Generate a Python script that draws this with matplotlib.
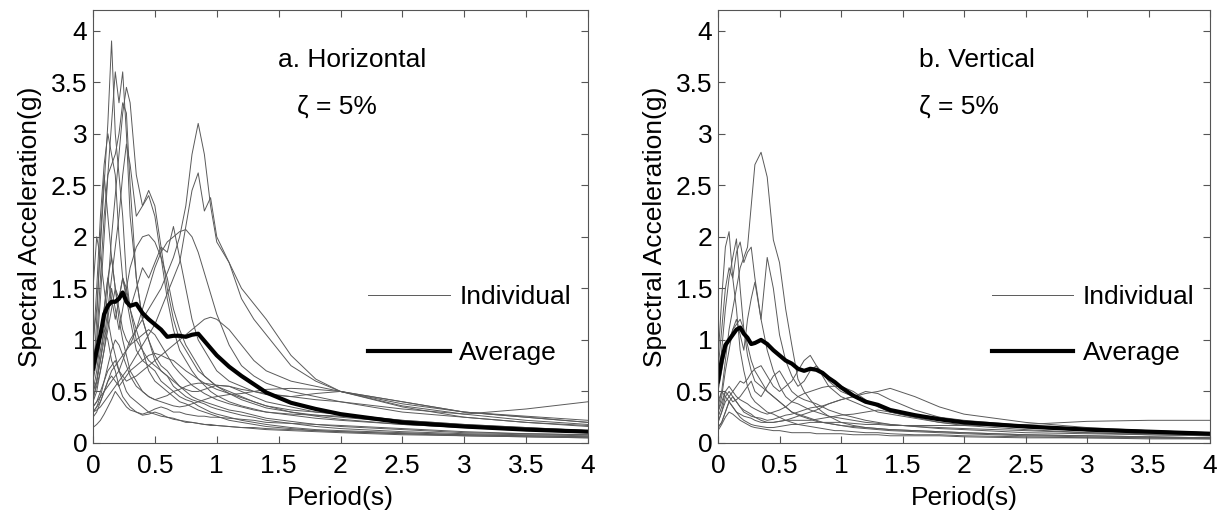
import matplotlib
matplotlib.use('Agg')
import matplotlib.pyplot as plt
from matplotlib.lines import Line2D
from matplotlib.ticker import FuncFormatter, MultipleLocator

plt.rcParams['font.family'] = ['Liberation Sans', 'DejaVu Sans']

period = [0, 0.03, 0.06, 0.09, 0.12, 0.15, 0.18, 0.21, 0.24, 0.27, 0.3, 0.35, 0.4, 0.45,
          0.5, 0.55, 0.6, 0.65, 0.7, 0.75, 0.8, 0.85, 0.9, 0.95, 1.0, 1.1, 1.2, 1.3, 1.4,
          1.6, 1.8, 2.0, 2.5, 3.0, 3.5, 4.0]

# horizontal records, spectral acceleration (g)
h01 = [1.0, 1.3, 1.9, 2.5, 3.1, 3.9, 3.0, 2.6, 2.2, 1.6, 1.3, 1.0, 0.9, 0.7, 0.6, 0.55, 0.5, 0.45, 0.4, 0.38, 0.35, 0.32, 0.3, 0.28, 0.26, 0.22, 0.2, 0.18, 0.16, 0.14, 0.12, 0.11, 0.09, 0.08, 0.07, 0.06]
h02 = [0.7, 0.9, 1.4, 2.0, 2.6, 3.1, 3.6, 3.3, 3.6, 3.0, 2.2, 1.6, 1.2, 1.0, 0.8, 0.7, 0.65, 0.55, 0.5, 0.45, 0.42, 0.4, 0.38, 0.35, 0.33, 0.3, 0.27, 0.25, 0.22, 0.19, 0.16, 0.14, 0.11, 0.09, 0.08, 0.07]
h03 = [0.5, 0.6, 0.8, 1.1, 1.5, 2.0, 2.4, 2.8, 3.2, 3.45, 3.3, 2.6, 2.3, 2.45, 2.3, 1.9, 1.5, 1.2, 1.0, 0.9, 0.8, 0.7, 0.65, 0.6, 0.55, 0.5, 0.45, 0.4, 0.36, 0.3, 0.26, 0.23, 0.18, 0.15, 0.13, 0.11]
h04 = [0.35, 0.4, 0.45, 0.5, 0.55, 0.6, 0.65, 0.7, 0.8, 0.9, 1.0, 1.1, 1.2, 1.3, 1.4, 1.5, 1.65, 1.8, 2.0, 2.3, 2.8, 3.1, 2.8, 2.3, 1.95, 1.75, 1.5, 1.35, 1.2, 0.85, 0.62, 0.5, 0.38, 0.3, 0.26, 0.22]
h05 = [0.3, 0.32, 0.35, 0.4, 0.45, 0.5, 0.55, 0.6, 0.65, 0.7, 0.75, 0.85, 0.95, 1.05, 1.15, 1.3, 1.45, 1.6, 1.75, 2.1, 2.45, 2.62, 2.25, 2.38, 2.0, 1.75, 1.4, 1.2, 1.05, 0.75, 0.6, 0.5, 0.36, 0.28, 0.22, 0.18]
h06 = [0.4, 0.5, 0.7, 0.9, 1.2, 1.5, 1.3, 1.1, 1.3, 1.5, 1.7, 1.9, 2.0, 2.02, 1.95, 1.8, 1.6, 1.3, 1.1, 0.95, 0.85, 0.75, 0.65, 0.6, 0.55, 0.48, 0.42, 0.38, 0.34, 0.3, 0.27, 0.25, 0.2, 0.16, 0.13, 0.11]
h07 = [0.3, 0.35, 0.4, 0.5, 0.6, 0.7, 0.75, 0.8, 0.85, 0.9, 0.95, 1.1, 1.3, 1.5, 1.7, 1.85, 1.95, 2.0, 2.05, 2.07, 2.0, 1.85, 1.65, 1.45, 1.25, 0.95, 0.75, 0.65, 0.58, 0.5, 0.45, 0.4, 0.3, 0.25, 0.2, 0.17]
h08 = [0.6, 0.8, 1.0, 1.3, 1.6, 1.4, 1.2, 1.4, 1.6, 1.5, 1.3, 1.5, 1.7, 1.6, 1.75, 1.9, 1.85, 2.1, 1.8, 1.5, 1.2, 1.0, 0.9, 0.8, 0.7, 0.6, 0.55, 0.5, 0.47, 0.45, 0.48, 0.5, 0.35, 0.25, 0.2, 0.16]
h09 = [0.9, 1.5, 2.2, 2.7, 3.0, 2.8, 2.6, 2.0, 1.6, 1.4, 1.2, 0.9, 0.8, 0.75, 0.7, 0.6, 0.55, 0.5, 0.45, 0.42, 0.4, 0.36, 0.33, 0.3, 0.28, 0.25, 0.22, 0.2, 0.18, 0.15, 0.13, 0.12, 0.1, 0.08, 0.07, 0.06]
h10 = [0.8, 1.0, 1.6, 2.2, 2.6, 2.7, 2.8, 3.0, 3.3, 3.2, 2.5, 1.6, 1.2, 1.0, 0.85, 0.75, 0.7, 0.62, 0.55, 0.5, 0.45, 0.42, 0.4, 0.38, 0.36, 0.32, 0.3, 0.27, 0.24, 0.21, 0.18, 0.16, 0.13, 0.1, 0.09, 0.08]
h11 = [0.5, 0.6, 0.8, 1.0, 1.3, 1.6, 1.9, 2.2, 2.6, 2.9, 2.7, 2.2, 2.3, 2.4, 2.2, 1.8, 1.4, 1.1, 0.9, 0.8, 0.7, 0.62, 0.56, 0.5, 0.46, 0.4, 0.36, 0.33, 0.3, 0.27, 0.24, 0.22, 0.18, 0.15, 0.12, 0.1]
h12 = [0.35, 0.4, 0.5, 0.6, 0.7, 0.75, 0.8, 0.7, 0.65, 0.6, 0.62, 0.65, 0.7, 0.75, 0.8, 0.85, 0.9, 0.95, 1.0, 1.05, 1.1, 1.15, 1.2, 1.22, 1.2, 1.1, 0.95, 0.8, 0.7, 0.6, 0.55, 0.5, 0.4, 0.3, 0.25, 0.2]
h13 = [0.25, 0.3, 0.4, 0.5, 0.6, 0.65, 0.6, 0.55, 0.6, 0.65, 0.7, 0.75, 0.8, 0.85, 0.87, 0.85, 0.82, 0.8, 0.75, 0.7, 0.66, 0.62, 0.58, 0.55, 0.52, 0.48, 0.44, 0.4, 0.36, 0.32, 0.3, 0.28, 0.22, 0.18, 0.15, 0.12]
h14 = [0.15, 0.18, 0.22, 0.28, 0.35, 0.42, 0.5, 0.45, 0.4, 0.35, 0.32, 0.3, 0.28, 0.3, 0.33, 0.35, 0.33, 0.3, 0.3, 0.28, 0.27, 0.26, 0.26, 0.25, 0.25, 0.24, 0.23, 0.22, 0.2, 0.19, 0.18, 0.17, 0.14, 0.11, 0.09, 0.08]
h15 = [0.3, 0.35, 0.45, 0.6, 0.75, 0.9, 1.0, 0.95, 0.85, 0.75, 0.65, 0.55, 0.5, 0.45, 0.42, 0.44, 0.46, 0.5, 0.52, 0.55, 0.57, 0.58, 0.58, 0.57, 0.56, 0.55, 0.52, 0.5, 0.48, 0.45, 0.42, 0.4, 0.33, 0.28, 0.33, 0.4]
h16 = [0.4, 0.6, 0.9, 1.1, 1.0, 0.8, 0.7, 0.55, 0.45, 0.4, 0.35, 0.3, 0.27, 0.28, 0.3, 0.28, 0.25, 0.24, 0.22, 0.2, 0.2, 0.19, 0.18, 0.18, 0.17, 0.16, 0.15, 0.15, 0.14, 0.13, 0.12, 0.11, 0.09, 0.07, 0.06, 0.05]
h17 = [0.5, 0.7, 1.0, 1.3, 1.6, 1.8, 1.5, 1.3, 1.1, 1.0, 0.95, 1.0, 1.05, 1.1, 1.05, 0.95, 0.85, 0.75, 0.68, 0.62, 0.56, 0.52, 0.48, 0.45, 0.42, 0.38, 0.35, 0.32, 0.3, 0.28, 0.27, 0.26, 0.2, 0.16, 0.13, 0.11]
h18 = [0.6, 1.2, 2.0, 2.6, 2.2, 1.8, 1.5, 1.2, 1.0, 0.85, 0.7, 0.6, 0.5, 0.45, 0.42, 0.4, 0.38, 0.36, 0.35, 0.36, 0.38, 0.4, 0.42, 0.44, 0.45, 0.47, 0.48, 0.5, 0.52, 0.53, 0.52, 0.5, 0.4, 0.3, 0.25, 0.2]
h19 = [1.5, 2.0, 1.8, 1.5, 1.2, 1.0, 0.85, 0.7, 0.6, 0.5, 0.45, 0.4, 0.35, 0.3, 0.28, 0.26, 0.25, 0.23, 0.22, 0.21, 0.2, 0.19, 0.18, 0.17, 0.17, 0.16, 0.15, 0.14, 0.13, 0.12, 0.11, 0.1, 0.08, 0.07, 0.06, 0.05]
h20 = [0.45, 0.55, 0.7, 0.9, 1.1, 1.3, 1.5, 1.4, 1.6, 1.45, 1.3, 1.1, 0.9, 0.8, 0.75, 0.7, 0.65, 0.6, 0.55, 0.52, 0.5, 0.5, 0.52, 0.54, 0.56, 0.55, 0.5, 0.45, 0.4, 0.35, 0.3, 0.28, 0.22, 0.18, 0.15, 0.12]
h_avg = [0.72, 0.9, 1.05, 1.25, 1.33, 1.37, 1.37, 1.4, 1.46, 1.37, 1.33, 1.35, 1.26, 1.2, 1.15, 1.1, 1.03, 1.04, 1.04, 1.03, 1.05, 1.06, 0.99, 0.92, 0.85, 0.74, 0.65, 0.57, 0.49, 0.39, 0.33, 0.28, 0.2, 0.16, 0.13, 0.11]

# vertical records
v01 = [0.35, 0.5, 0.8, 1.1, 1.3, 1.5, 1.7, 1.8, 1.9, 2.3, 2.7, 2.82, 2.58, 1.97, 1.75, 1.3, 0.95, 0.62, 0.5, 0.42, 0.35, 0.3, 0.26, 0.23, 0.2, 0.17, 0.15, 0.14, 0.13, 0.12, 0.11, 0.1, 0.08, 0.07, 0.06, 0.05]
v02 = [0.3, 0.45, 0.7, 0.9, 1.1, 1.2, 1.05, 0.9, 1.2, 1.4, 1.56, 1.2, 1.8, 1.5, 1.05, 0.8, 0.65, 0.55, 0.6, 0.7, 0.75, 0.68, 0.6, 0.55, 0.5, 0.45, 0.4, 0.36, 0.3, 0.25, 0.2, 0.17, 0.13, 0.1, 0.08, 0.07]
v03 = [0.8, 1.4, 1.9, 2.05, 1.6, 1.3, 0.9, 0.7, 0.55, 0.45, 0.4, 0.35, 0.3, 0.28, 0.25, 0.22, 0.2, 0.18, 0.17, 0.16, 0.15, 0.14, 0.13, 0.12, 0.12, 0.11, 0.1, 0.1, 0.09, 0.08, 0.08, 0.07, 0.06, 0.05, 0.05, 0.04]
v04 = [0.6, 0.9, 1.3, 1.6, 1.8, 1.98, 1.5, 1.1, 0.85, 0.7, 0.6, 0.55, 0.5, 0.45, 0.4, 0.35, 0.3, 0.27, 0.25, 0.23, 0.21, 0.2, 0.19, 0.18, 0.17, 0.16, 0.15, 0.14, 0.13, 0.12, 0.11, 0.1, 0.08, 0.07, 0.06, 0.05]
v05 = [0.7, 1.1, 1.5, 1.7, 1.6, 1.85, 1.95, 1.75, 1.85, 1.9, 1.6, 1.2, 0.9, 0.7, 0.55, 0.45, 0.4, 0.38, 0.35, 0.32, 0.3, 0.28, 0.26, 0.25, 0.24, 0.22, 0.2, 0.19, 0.18, 0.16, 0.15, 0.14, 0.12, 0.1, 0.09, 0.08]
v06 = [0.2, 0.3, 0.4, 0.45, 0.5, 0.55, 0.6, 0.58, 0.62, 0.68, 0.72, 0.75, 0.65, 0.55, 0.5, 0.55, 0.6, 0.7, 0.8, 0.85, 0.75, 0.65, 0.55, 0.5, 0.45, 0.4, 0.35, 0.3, 0.28, 0.24, 0.2, 0.18, 0.15, 0.12, 0.1, 0.08]
v07 = [0.15, 0.2, 0.3, 0.4, 0.45, 0.4, 0.35, 0.3, 0.28, 0.26, 0.25, 0.24, 0.22, 0.23, 0.25, 0.27, 0.28, 0.3, 0.32, 0.34, 0.35, 0.36, 0.38, 0.4, 0.42, 0.45, 0.48, 0.5, 0.53, 0.45, 0.35, 0.28, 0.2, 0.15, 0.12, 0.1]
v08 = [0.2, 0.3, 0.45, 0.5, 0.45, 0.4, 0.35, 0.32, 0.3, 0.28, 0.25, 0.22, 0.2, 0.2, 0.21, 0.22, 0.24, 0.26, 0.28, 0.3, 0.32, 0.35, 0.38, 0.4, 0.42, 0.45, 0.5, 0.48, 0.42, 0.32, 0.25, 0.2, 0.15, 0.12, 0.1, 0.08]
v09 = [0.25, 0.35, 0.5, 0.55, 0.5, 0.45, 0.42, 0.4, 0.38, 0.35, 0.33, 0.3, 0.28, 0.3, 0.32, 0.35, 0.4, 0.45, 0.48, 0.5, 0.52, 0.54, 0.55, 0.55, 0.55, 0.5, 0.42, 0.35, 0.3, 0.25, 0.22, 0.2, 0.17, 0.14, 0.12, 0.1]
v10 = [0.15, 0.2, 0.3, 0.4, 0.35, 0.3, 0.25, 0.22, 0.2, 0.18, 0.17, 0.16, 0.15, 0.15, 0.16, 0.17, 0.18, 0.18, 0.19, 0.2, 0.2, 0.2, 0.2, 0.2, 0.2, 0.19, 0.18, 0.18, 0.17, 0.17, 0.17, 0.17, 0.18, 0.21, 0.22, 0.22]
v11 = [0.12, 0.18, 0.25, 0.3, 0.28, 0.25, 0.22, 0.2, 0.18, 0.16, 0.15, 0.14, 0.13, 0.12, 0.12, 0.11, 0.1, 0.1, 0.1, 0.1, 0.09, 0.09, 0.09, 0.09, 0.09, 0.08, 0.08, 0.08, 0.07, 0.07, 0.07, 0.06, 0.05, 0.05, 0.04, 0.04]
v12 = [0.3, 0.4, 0.5, 0.45, 0.4, 0.42, 0.45, 0.5, 0.55, 0.6, 0.5, 0.45, 0.55, 0.65, 0.7, 0.6, 0.5, 0.45, 0.42, 0.4, 0.38, 0.35, 0.32, 0.3, 0.28, 0.25, 0.22, 0.2, 0.18, 0.16, 0.14, 0.13, 0.1, 0.09, 0.08, 0.07]
v13 = [0.5, 0.7, 0.9, 1.0, 1.1, 1.15, 1.2, 1.1, 0.95, 0.8, 0.7, 0.6, 0.5, 0.45, 0.4, 0.35, 0.3, 0.28, 0.26, 0.24, 0.22, 0.2, 0.19, 0.18, 0.17, 0.15, 0.14, 0.13, 0.12, 0.11, 0.1, 0.09, 0.07, 0.06, 0.05, 0.05]
v14 = [0.4, 0.5, 0.45, 0.4, 0.35, 0.3, 0.28, 0.26, 0.25, 0.24, 0.22, 0.2, 0.2, 0.2, 0.21, 0.22, 0.22, 0.22, 0.22, 0.22, 0.23, 0.24, 0.25, 0.26, 0.27, 0.28, 0.3, 0.32, 0.3, 0.27, 0.25, 0.22, 0.17, 0.13, 0.11, 0.1]
v_avg = [0.6, 0.8, 0.95, 1.0, 1.05, 1.1, 1.12, 1.06, 1.02, 0.96, 0.97, 1.0, 0.96, 0.9, 0.85, 0.8, 0.77, 0.72, 0.7, 0.72, 0.71, 0.68, 0.63, 0.59, 0.54, 0.46, 0.4, 0.37, 0.32, 0.27, 0.23, 0.2, 0.16, 0.13, 0.11, 0.09]

horiz = [h01, h02, h03, h04, h05, h06, h07, h08, h09, h10,
         h11, h12, h13, h14, h15, h16, h17, h18, h19, h20]
vert = [v01, v02, v03, v04, v05, v06, v07, v08, v09, v10, v11, v12, v13, v14]

FS = 19
THIN = '#5a5a5a'

fig = plt.figure(figsize=(12.25, 5.16), dpi=100)
ax1 = fig.add_axes([93 / 1225, 73 / 516, 495 / 1225, 433 / 516])
ax2 = fig.add_axes([718 / 1225, 73 / 516, 492 / 1225, 433 / 516])


def panel(ax, records, avg):
    for r in records:
        ax.plot(period, r, color=THIN, lw=0.7)
    ax.plot(period, avg, color='black', lw=3)
    ax.set_xlim(0, 4)
    ax.set_ylim(0, 4.2)
    ax.xaxis.set_major_locator(MultipleLocator(0.5))
    ax.yaxis.set_major_locator(MultipleLocator(0.5))
    fmt = FuncFormatter(lambda v, p: '%g' % v)
    ax.xaxis.set_major_formatter(fmt)
    ax.yaxis.set_major_formatter(fmt)
    ax.tick_params(direction='in', top=True, right=True, length=5, width=0.8,
                   color='#555555', labelsize=FS)
    ax.tick_params(axis='x', pad=8)
    ax.tick_params(axis='y', pad=4)
    for s in ax.spines.values():
        s.set_color('#555555')
        s.set_linewidth(0.8)
    ax.set_xlabel('Period(s)', fontsize=FS, labelpad=6)
    ax.set_ylabel('Spectral Acceleration(g)', fontsize=FS, labelpad=6)
    handles = [Line2D([], [], color=THIN, lw=0.7), Line2D([], [], color='black', lw=3)]
    ax.legend(handles, ['Individual', 'Average'], loc='center left',
              bbox_to_anchor=(0.556, 0.272), frameon=False, fontsize=FS,
              handlelength=3.1, handletextpad=0.35, labelspacing=1.2,
              borderpad=0, borderaxespad=0)


panel(ax1, horiz, h_avg)
panel(ax2, vert, v_avg)

ax1.text(0.374, 0.885, 'a. Horizontal', transform=ax1.transAxes, fontsize=FS, va='center')
ax1.text(0.412, 0.776, '\u03b6 = 5%', transform=ax1.transAxes, fontsize=FS, va='center')
ax2.text(0.409, 0.885, 'b. Vertical', transform=ax2.transAxes, fontsize=FS, va='center')
ax2.text(0.409, 0.776, '\u03b6 = 5%', transform=ax2.transAxes, fontsize=FS, va='center')

fig.savefig('out.png', dpi=100)
